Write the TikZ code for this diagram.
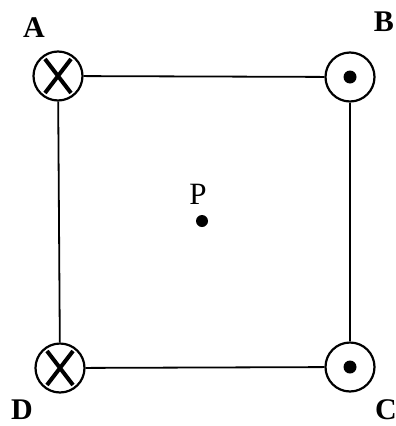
\documentclass[tikz,border=0pt]{standalone}
\usepackage{fontspec}
\setmainfont{Liberation Serif}
\usetikzlibrary{calc}
\begin{document}
\begin{tikzpicture}[x=1pt,y=-1pt,
  wire/.style={draw=black,circle,line width=2.2pt,minimum size=49pt,inner sep=0pt},
  lbl/.style={font=\fontsize{30}{30}\selectfont\bfseries,inner sep=0pt},
  conn/.style={line width=1.8pt}]
\useasboundingbox (0,0) rectangle (396,426);
\node[wire] (A) at (58,76) {};
\node[wire] (B) at (350,77) {};
\node[wire] (D) at (60,368) {};
\node[wire] (C) at (350,367) {};
\draw[line width=4pt] ($(A)+(-13,-17)$) -- ($(A)+(13,17)$) ($(A)+(13,-17)$) -- ($(A)+(-13,17)$);
\draw[line width=4pt] ($(D)+(-13,-17)$) -- ($(D)+(13,17)$) ($(D)+(13,-17)$) -- ($(D)+(-13,17)$);
\fill (B) circle (6.5);
\fill (C) circle (6.5);
\draw[conn] (A) -- (B);
\draw[conn] (B) -- (C);
\draw[conn] (C) -- (D);
\draw[conn] (D) -- (A);
\node[lbl] (la) at (34,28) {A};
\node[lbl] (lb) at (384,22) {B};
\node[lbl] (ld) at (22,410) {D};
\node[lbl] (lc) at (386,410) {C};
\fill (202,221) circle (6) coordinate (P);
\node[font=\fontsize{31}{31}\selectfont,inner sep=0pt] (lp) at (198,194) {P};
\end{tikzpicture}
\end{document}
